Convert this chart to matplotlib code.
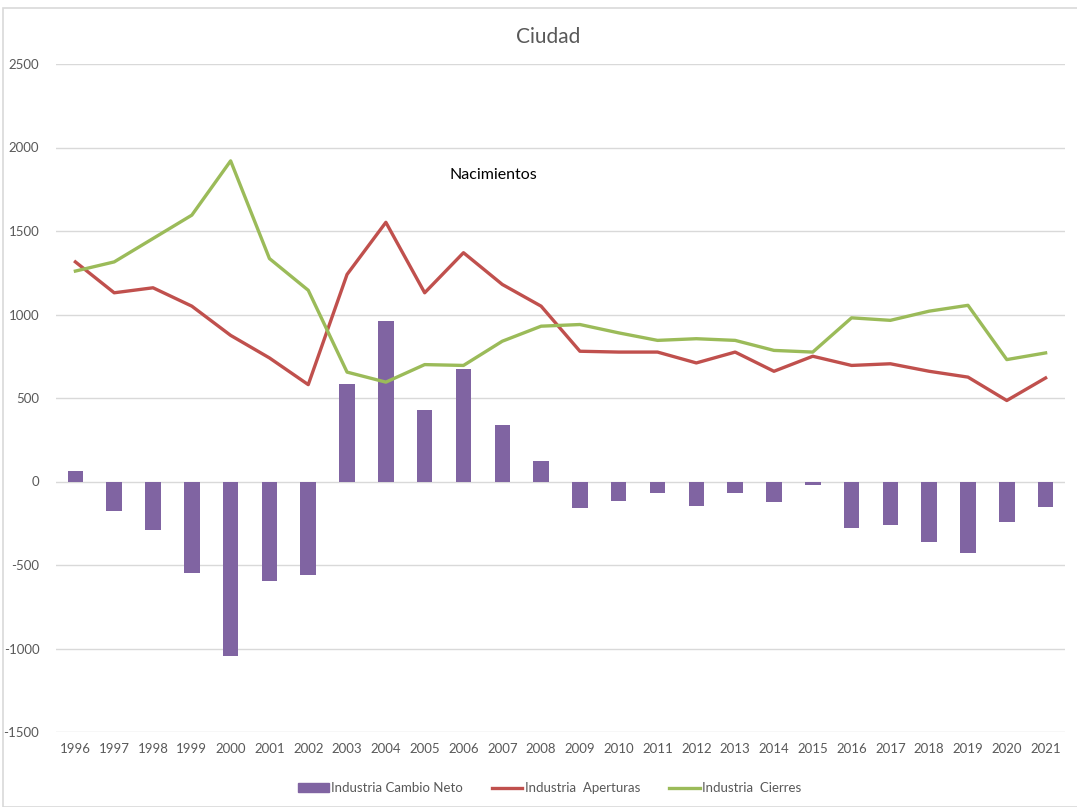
import matplotlib
matplotlib.use("Agg")
import matplotlib.pyplot as plt
from matplotlib.patches import Rectangle
from matplotlib.lines import Line2D
import numpy as np

years = [str(y) for y in range(1996, 2022)]
cambio_neto = [60, -175, -289, -549, -1044, -596, -559, 585, 962, 430, 675, 340, 120,
               -160, -115, -70, -144, -70, -122, -22, -280, -262, -362, -429, -242, -153]
aperturas = [1315, 1130, 1160, 1050, 875, 740, 580, 1240, 1552, 1130, 1370, 1180, 1050,
             780, 775, 775, 710, 775, 660, 750, 695, 705, 660, 625, 485, 620]
cierres = [1260, 1315, 1455, 1595, 1920, 1335, 1145, 655, 595, 700, 695, 840, 930,
           940, 890, 845, 855, 845, 785, 775, 980, 965, 1020, 1055, 730, 770]
yticks = [-1500, -1000, -500, 0, 500, 1000, 1500, 2000, 2500]

plt.rcParams['font.family'] = ['Lato', 'DejaVu Sans']
gray = '#595959'

fig = plt.figure(figsize=(10.77, 8.07), dpi=100)
ax = fig.add_axes([56/1077, 1-732/807, (1065-56)/1077, (732-64)/807])

x = np.arange(len(years))
ax.bar(x, cambio_neto, width=0.4, color='#8064A2', zorder=2, label='Industria Cambio Neto')
ax.plot(x, aperturas, color='#C0504D', lw=2.4, zorder=3, label='Industria  Aperturas',
        solid_joinstyle='round')
ax.plot(x, cierres, color='#9BBB59', lw=2.4, zorder=3, label='Industria  Cierres',
        solid_joinstyle='round')

ax.set_xlim(-0.5, len(years) - 0.5)
ax.set_ylim(-1500, 2500)
ax.set_yticks(yticks)
ax.set_yticklabels([str(v) for v in yticks])
ax.set_xticks(x)
ax.set_xticklabels(years)
ax.yaxis.grid(True, color='#D9D9D9', lw=1, zorder=0)
ax.set_axisbelow(True)
for s in ax.spines.values():
    s.set_visible(False)
ax.tick_params(axis='both', length=0, labelsize=9.5, colors=gray)
ax.tick_params(axis='y', pad=12)
ax.tick_params(axis='x', pad=8)

fig.text(548/1077, 1-37/807, 'Ciudad', ha='center', va='center', fontsize=15, color=gray)
fig.text(493/1077, 1-175/807, 'Nacimientos', ha='center', va='center', fontsize=11.5, color='black')

handles = [Rectangle((0, 0), 1, 1, color='#8064A2'),
           Line2D([0], [0], color='#C0504D', lw=2.4),
           Line2D([0], [0], color='#9BBB59', lw=2.4)]
labels = ['Industria Cambio Neto', 'Industria  Aperturas', 'Industria  Cierres']
fig.legend(handles, labels, loc='center', bbox_to_anchor=(550/1077, 1-788/807), ncol=3,
           frameon=False, fontsize=9.5, labelcolor=gray, handlelength=2.3,
           handletextpad=0.2, columnspacing=2.2, handleheight=0.6)

fig.patches.append(Rectangle((3/1077, 0), 1.0, 1-8/807, transform=fig.transFigure,
                             fill=False, edgecolor='#D9D9D9', lw=1.2))

fig.savefig('out.png', dpi=100)
